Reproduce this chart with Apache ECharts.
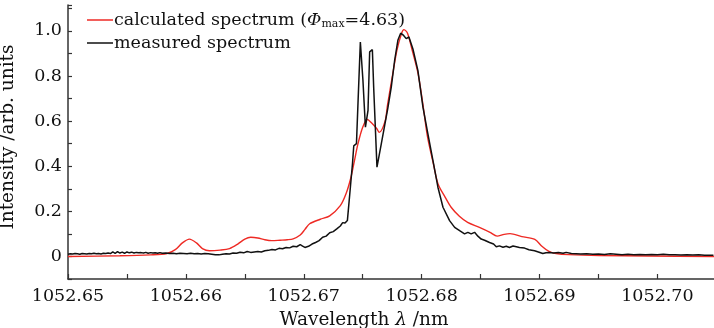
<!DOCTYPE html>
<html>
<head>
<meta charset="utf-8">
<script src="https://cdn.jsdelivr.net/npm/echarts@6/dist/echarts.min.js"></script>
<style>
  html, body { margin: 0; padding: 0; background: #fff; }
  #main { width: 714px; height: 328px; }
</style>
</head>
<body>
<div id="main"></div>
<script>
// wavelength (nm), intensity (arb. units)
const calculatedSpectrum = [
  [1052.6500, 0.000], [1052.6544, 0.003], [1052.6570, 0.007], [1052.6584, 0.013],
  [1052.6591, 0.030], [1052.6597, 0.060], [1052.6603, 0.077], [1052.6609, 0.060],
  [1052.6614, 0.035], [1052.6620, 0.025], [1052.6629, 0.028], [1052.6637, 0.035],
  [1052.6644, 0.055], [1052.6650, 0.077], [1052.6655, 0.085], [1052.6661, 0.082],
  [1052.6667, 0.074], [1052.6673, 0.070], [1052.6680, 0.072], [1052.6686, 0.074],
  [1052.6691, 0.078], [1052.6697, 0.095], [1052.6701, 0.120], [1052.6705, 0.145],
  [1052.6714, 0.165], [1052.6722, 0.180], [1052.6731, 0.225], [1052.6736, 0.280],
  [1052.6740, 0.350], [1052.6743, 0.425], [1052.6746, 0.500], [1052.6750, 0.573],
  [1052.6754, 0.607], [1052.6757, 0.595], [1052.6762, 0.566], [1052.6764, 0.550],
  [1052.6769, 0.600], [1052.6771, 0.670], [1052.6776, 0.825], [1052.6779, 0.914],
  [1052.6783, 0.990], [1052.6785, 1.006], [1052.6788, 0.990], [1052.6792, 0.914],
  [1052.6797, 0.810], [1052.6801, 0.677], [1052.6805, 0.530], [1052.6810, 0.410],
  [1052.6814, 0.320], [1052.6820, 0.262], [1052.6825, 0.218], [1052.6832, 0.178],
  [1052.6839, 0.151], [1052.6849, 0.129], [1052.6858, 0.107], [1052.6864, 0.090],
  [1052.6870, 0.098], [1052.6875, 0.101], [1052.6885, 0.088], [1052.6896, 0.076],
  [1052.6902, 0.045], [1052.6908, 0.022], [1052.6914, 0.013], [1052.6925, 0.008],
  [1052.6951, 0.004], [1052.6993, 0.002], [1052.7048, 0.000]
];

const measuredSpectrum = [
  [1052.6500, 0.010], [1052.6502, 0.012], [1052.6504, 0.011], [1052.6506, 0.013], [1052.6508, 0.012],
  [1052.6510, 0.010], [1052.6512, 0.013], [1052.6514, 0.012], [1052.6516, 0.011], [1052.6518, 0.013],
  [1052.6520, 0.012], [1052.6522, 0.014], [1052.6524, 0.012], [1052.6526, 0.013], [1052.6528, 0.011],
  [1052.6530, 0.014], [1052.6532, 0.013], [1052.6534, 0.015], [1052.6536, 0.013], [1052.6538, 0.020],
  [1052.6540, 0.014], [1052.6542, 0.021], [1052.6544, 0.015], [1052.6546, 0.019], [1052.6548, 0.014],
  [1052.6550, 0.020], [1052.6552, 0.016], [1052.6554, 0.019], [1052.6556, 0.015], [1052.6558, 0.018],
  [1052.6560, 0.016], [1052.6562, 0.017], [1052.6564, 0.015], [1052.6566, 0.018], [1052.6568, 0.014],
  [1052.6570, 0.017], [1052.6572, 0.015], [1052.6574, 0.016], [1052.6576, 0.014], [1052.6578, 0.017],
  [1052.6580, 0.014], [1052.6583, 0.015], [1052.6586, 0.013], [1052.6589, 0.014], [1052.6592, 0.012],
  [1052.6595, 0.014], [1052.6598, 0.013], [1052.6601, 0.012], [1052.6604, 0.014], [1052.6607, 0.012],
  [1052.6610, 0.013], [1052.6613, 0.011], [1052.6616, 0.013], [1052.6619, 0.012], [1052.6622, 0.010],
  [1052.6625, 0.008], [1052.6628, 0.007], [1052.6631, 0.010], [1052.6634, 0.012], [1052.6637, 0.011],
  [1052.6640, 0.015], [1052.6643, 0.014], [1052.6646, 0.019], [1052.6649, 0.016], [1052.6652, 0.022],
  [1052.6655, 0.018], [1052.6658, 0.020], [1052.6661, 0.022], [1052.6664, 0.020], [1052.6667, 0.025],
  [1052.6670, 0.027], [1052.6673, 0.031], [1052.6676, 0.029], [1052.6679, 0.036], [1052.6682, 0.034],
  [1052.6685, 0.040], [1052.6688, 0.038], [1052.6691, 0.045], [1052.6694, 0.043], [1052.6697, 0.052],
  [1052.6699, 0.046], [1052.6701, 0.040], [1052.6704, 0.045], [1052.6707, 0.055], [1052.6710, 0.062],
  [1052.6713, 0.070], [1052.6716, 0.085], [1052.6719, 0.090], [1052.6722, 0.105], [1052.6725, 0.110],
  [1052.6728, 0.122], [1052.6731, 0.135], [1052.6733, 0.150], [1052.6735, 0.148], [1052.6737, 0.159],
  [1052.67384, 0.166], [1052.67396, 0.310], [1052.67413, 0.410], [1052.67424, 0.490], [1052.67447, 0.500],
  [1052.67460, 0.680], [1052.67480, 0.951], [1052.67502, 0.780], [1052.67523, 0.573], [1052.67545, 0.648],
  [1052.67559, 0.907], [1052.67582, 0.917], [1052.67593, 0.750], [1052.67621, 0.396], [1052.67658, 0.500],
  [1052.67686, 0.580], [1052.67714, 0.660], [1052.67742, 0.750], [1052.67771, 0.870], [1052.67799, 0.960],
  [1052.67822, 0.990], [1052.67847, 0.980], [1052.67869, 0.966], [1052.67892, 0.973], [1052.67926, 0.920],
  [1052.67968, 0.825], [1052.68011, 0.662], [1052.68053, 0.544], [1052.68096, 0.425], [1052.68138, 0.307],
  [1052.68181, 0.218], [1052.68237, 0.159], [1052.68280, 0.129], [1052.68322, 0.114], [1052.68364, 0.100],
  [1052.68392, 0.107], [1052.68420, 0.100], [1052.68449, 0.107], [1052.68477, 0.090], [1052.68505, 0.077],
  [1052.68534, 0.072], [1052.68576, 0.062], [1052.68610, 0.055], [1052.68633, 0.043], [1052.68660, 0.047],
  [1052.68690, 0.041], [1052.68718, 0.045], [1052.68745, 0.040], [1052.68775, 0.046], [1052.68803, 0.043],
  [1052.68830, 0.040], [1052.68873, 0.037], [1052.68910, 0.030], [1052.68958, 0.025], [1052.68990, 0.020],
  [1052.69028, 0.013], [1052.69055, 0.016], [1052.69085, 0.018], [1052.69120, 0.015], [1052.69160, 0.017],
  [1052.69200, 0.014], [1052.69226, 0.018], [1052.69270, 0.013], [1052.69310, 0.012], [1052.69350, 0.011],
  [1052.69400, 0.012], [1052.69452, 0.010], [1052.69500, 0.011], [1052.69550, 0.009], [1052.69600, 0.012],
  [1052.69650, 0.010], [1052.69700, 0.008], [1052.69750, 0.010], [1052.69800, 0.008], [1052.69850, 0.009],
  [1052.69900, 0.007], [1052.69950, 0.009], [1052.70000, 0.008], [1052.70050, 0.010], [1052.70100, 0.007],
  [1052.70150, 0.008], [1052.70200, 0.006], [1052.70250, 0.008], [1052.70300, 0.006], [1052.70350, 0.007],
  [1052.70400, 0.005], [1052.70475, 0.005]
];

const seriesNames = ["calculated", "measured"];

const FONT = "DejaVu Serif";
const AXIS_COLOR = "#333";

const chart = echarts.init(document.getElementById("main"), null, { renderer: "canvas" });
chart.setOption({
  animation: false,
  backgroundColor: "#fff",
  textStyle: { fontFamily: FONT, color: "#111" },
  grid: { left: 68, right: 0, top: 5, bottom: 49, containLabel: false, outerBoundsMode: "none" },
  legend: {
    left: 82,
    top: 6,
    orient: "vertical",
    icon: "rect",
    itemWidth: 26,
    itemHeight: 1.5,
    itemGap: 4,
    data: seriesNames,
    formatter: (name) =>
      name === "calculated"
        ? "calculated spectrum ({it|Φ}{sub|max}=4.63)"
        : "measured spectrum",
    textStyle: {
      fontFamily: FONT,
      fontSize: 17.5,
      color: "#111",
      padding: [0, 0, 0, -4],
      rich: {
        it: { fontFamily: FONT, fontSize: 17.5, fontStyle: "italic", color: "#111" },
        sub: { fontFamily: FONT, fontSize: 11, color: "#111", padding: [9, 0, 0, 0] }
      }
    }
  },
  xAxis: {
    type: "value",
    min: 1052.65,
    max: 1052.7048,
    interval: 0.005,
    name: "Wavelength {it|λ} /nm",
    nameLocation: "middle",
    nameGap: 32,
    nameTextStyle: {
      fontFamily: FONT,
      fontSize: 18.5,
      color: "#111",
      padding: [0, 54, 0, 0],
      rich: { it: { fontFamily: FONT, fontSize: 18.5, fontStyle: "italic", color: "#111" } }
    },
    axisLine: { onZero: false, lineStyle: { color: AXIS_COLOR, width: 1.5 } },
    axisTick: { inside: true, length: 5, lineStyle: { color: AXIS_COLOR, width: 1.2 } },
    splitLine: { show: false },
    axisLabel: {
      margin: 8,
      fontFamily: FONT,
      fontSize: 17.5,
      color: "#111",
      showMaxLabel: false,
      formatter: (v) => (Math.round(v * 1000) % 10 === 0 ? v.toFixed(2) : "")
    }
  },
  yAxis: {
    type: "value",
    min: -0.1,
    max: 1.115,
    interval: 0.1,
    name: "Intensity /arb. units",
    nameLocation: "middle",
    nameGap: 50,
    nameTextStyle: { fontFamily: FONT, fontSize: 18.5, color: "#111", padding: [0, 0, 0, 10] },
    axisLine: { show: true, lineStyle: { color: AXIS_COLOR, width: 1.5 } },
    axisTick: { show: true, inside: true, length: 4, lineStyle: { color: AXIS_COLOR, width: 1.2 } },
    splitLine: { show: false },
    axisLabel: {
      margin: 6,
      fontFamily: FONT,
      fontSize: 17.5,
      color: "#111",
      formatter: (v) => {
        const r = Math.round(v * 10);
        if (Math.abs(v * 10 - r) > 1e-6 || r % 2 !== 0) return "";
        return r === 0 ? "0" : (r / 10).toFixed(1);
      }
    }
  },
  series: [
    {
      name: "calculated",
      type: "line",
      data: calculatedSpectrum,
      symbol: "none",
      smooth: 0.3,
      lineStyle: { color: "#ee2a24", width: 1.4 },
      itemStyle: { color: "#ee2a24" }
    },
    {
      name: "measured",
      type: "line",
      data: measuredSpectrum,
      symbol: "none",
      lineStyle: { color: "#111", width: 1.5 },
      itemStyle: { color: "#111" }
    }
  ]
});

window.onresize = chart.resize;
</script>
</body>
</html>
